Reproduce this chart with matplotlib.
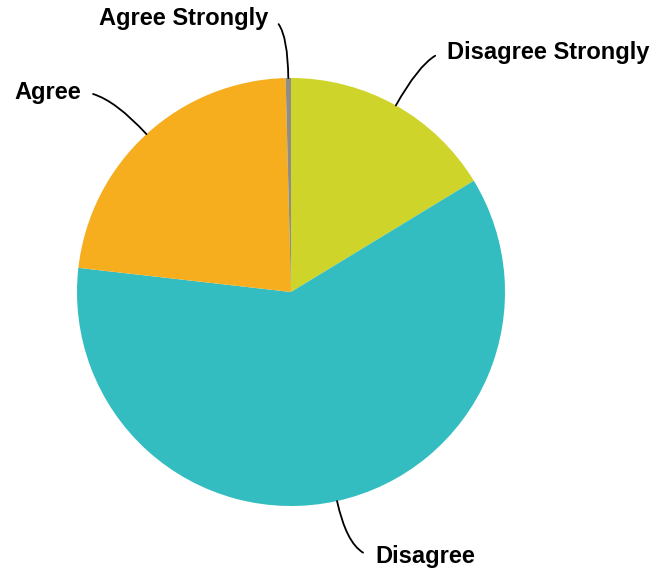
import numpy as np
import matplotlib
matplotlib.use("Agg")
import matplotlib.pyplot as plt

plt.rcParams["font.family"] = ["Liberation Sans", "DejaVu Sans"]

# clockwise from 12 o'clock
labels = ["Disagree Strongly", "Disagree", "Agree", "Agree Strongly"]
shares = [16.3, 60.5, 22.8, 0.4]
colors = ["#CFD42A", "#33BDC0", "#F6AE1F", "#8E8E86"]

# label placement (pixel-like coords, y up) and text anchoring
label_xy = {
    "Disagree Strongly": (447, 521, "left"),
    "Disagree": (375, 17, "left"),
    "Agree": (14, 481, "left"),
    "Agree Strongly": (268, 555, "right"),
}

W, H = 659, 573
CENTER = (291, 281)
RADIUS = 214

fig = plt.figure(figsize=(W / 100, H / 100), dpi=100)
ax = fig.add_axes([0, 0, 1, 1])
wedges, _ = ax.pie(
    shares,
    colors=colors,
    startangle=90,
    counterclock=False,
    center=CENTER,
    radius=RADIUS,
    wedgeprops=dict(linewidth=0),
)
ax.set_xlim(0, W)
ax.set_ylim(0, H)
ax.set_aspect("equal")
ax.axis("off")

for wedge, label in zip(wedges, labels):
    mid = np.deg2rad((wedge.theta1 + wedge.theta2) / 2)
    tip = (CENTER[0] + RADIUS * np.cos(mid), CENTER[1] + RADIUS * np.sin(mid))
    tx, ty, ha = label_xy[label]
    if ha == "left":
        relpos = (0.0, 0.5)
    else:
        relpos = (1.0, 0.5)
    # leader starts on the side of the text facing the pie
    if label == "Agree":
        relpos = (1.0, 0.5)
    ax.annotate(
        label,
        xy=tip,
        xytext=(tx, ty),
        ha=ha,
        va="center",
        fontsize=17,
        fontweight="bold",
        arrowprops=dict(
            arrowstyle="-",
            color="black",
            linewidth=1.3,
            shrinkA=7,
            shrinkB=0,
            relpos=relpos,
            connectionstyle=f"angle3,angleA=0,angleB={np.rad2deg(mid):.1f}",
        ),
    )

fig.savefig("out.png", dpi=100)
